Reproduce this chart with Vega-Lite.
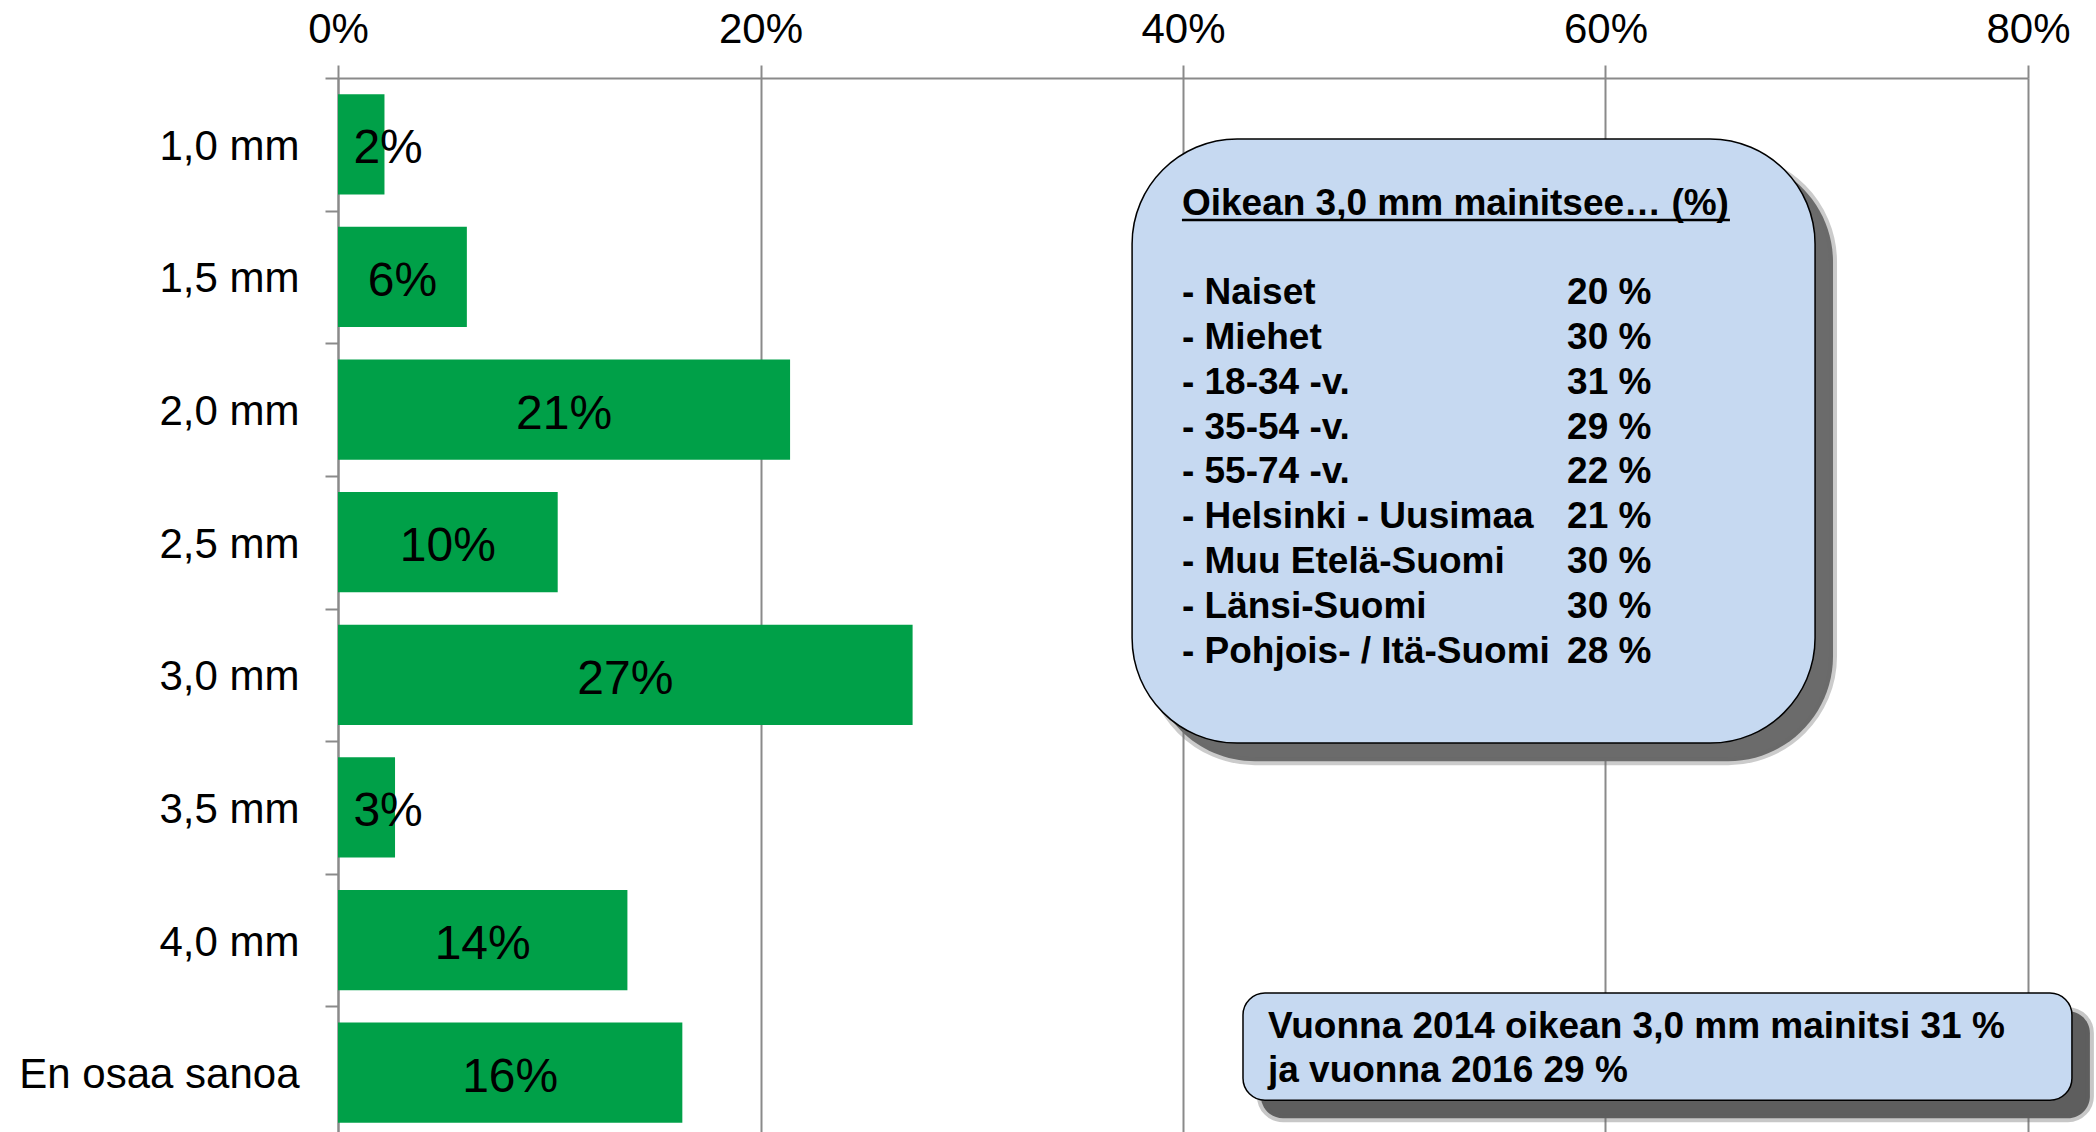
{
  "$schema": "https://vega.github.io/schema/vega-lite/v6.json",
  "width": 1690,
  "height": 1061,
  "autosize": "none",
  "padding": {"left": 338, "top": 78, "right": 68, "bottom": 0},
  "background": "white",
  "config": {"view": {"stroke": null}, "font": "Liberation Sans", "text": {"font": "Liberation Sans"}},
  "datasets": {
    "jakauma": [
      {"koko": "1,0 mm", "osuus": 0.022},
      {"koko": "1,5 mm", "osuus": 0.061},
      {"koko": "2,0 mm", "osuus": 0.214},
      {"koko": "2,5 mm", "osuus": 0.104},
      {"koko": "3,0 mm", "osuus": 0.272},
      {"koko": "3,5 mm", "osuus": 0.027},
      {"koko": "4,0 mm", "osuus": 0.137},
      {"koko": "En osaa sanoa", "osuus": 0.163}
    ],
    "ryhmat": [
      {"ryhma": "Naiset", "osuus": 20},
      {"ryhma": "Miehet", "osuus": 30},
      {"ryhma": "18-34 -v.", "osuus": 31},
      {"ryhma": "35-54 -v.", "osuus": 29},
      {"ryhma": "55-74 -v.", "osuus": 22},
      {"ryhma": "Helsinki - Uusimaa", "osuus": 21},
      {"ryhma": "Muu Etelä-Suomi", "osuus": 30},
      {"ryhma": "Länsi-Suomi", "osuus": 30},
      {"ryhma": "Pohjois- / Itä-Suomi", "osuus": 28}
    ]
  },
  "layer": [
    {
      "data": {"name": "jakauma"},
      "transform": [{"calculate": "max(datum.osuus / 2, 0.0237)", "as": "labelX"}],
      "encoding": {
        "y": {
          "field": "koko", "type": "nominal", "sort": null,
          "scale": {"paddingInner": 0, "paddingOuter": 0},
          "axis": {
            "title": null, "domainColor": "#8a8a8a", "domainWidth": 2,
            "tickColor": "#8a8a8a", "tickWidth": 2, "tickSize": 13, "tickBand": "extent",
            "labelFontSize": 42, "labelColor": "black", "labelPadding": 26,
            "labelFont": "Liberation Sans", "labelLimit": 500, "labelOffset": 2
          }
        }
      },
      "layer": [
        {
          "mark": {"type": "bar", "color": "#00a048", "height": {"band": 0.755}},
          "encoding": {
            "x": {
              "field": "osuus", "type": "quantitative", "title": null,
              "scale": {"domain": [0, 0.8], "nice": false},
              "axis": {
                "orient": "top", "values": [0, 0.2, 0.4, 0.6, 0.8], "format": ".0%",
                "grid": true, "gridColor": "#8a8a8a", "gridWidth": 2,
                "domainColor": "#8a8a8a", "domainWidth": 2,
                "tickColor": "#8a8a8a", "tickWidth": 2, "tickSize": 13,
                "labelFontSize": 42, "labelColor": "black", "labelPadding": 14,
                "labelFlush": false, "labelFont": "Liberation Sans", "title": null
              }
            }
          }
        },
        {
          "mark": {"type": "text", "fontSize": 48, "dy": 5, "color": "black", "align": "center", "baseline": "middle"},
          "encoding": {
            "x": {"field": "labelX", "type": "quantitative", "title": null, "scale": {"domain": [0, 0.8], "nice": false}},
            "text": {"field": "osuus", "type": "quantitative", "format": ".0%"}
          }
        }
      ]
    },
    {
      "data": {"values": [{}]},
      "layer": [
        {
          "mark": {"type": "rect", "color": "#6b6b6b", "stroke": "#6b6b6b", "strokeOpacity": 0.35, "strokeWidth": 8, "cornerRadius": 105},
          "encoding": {
            "x": {"datum": 0.3844, "type": "quantitative", "title": null, "scale": {"domain": [0, 0.8], "nice": false}},
            "x2": {"datum": 0.7077},
            "y": {"datum": 0.596, "type": "quantitative", "scale": {"domain": [0, 8], "reverse": true, "nice": false, "zero": false}, "axis": null},
            "y2": {"datum": 5.151}
          }
        },
        {
          "mark": {"type": "rect", "color": "#c6d9f1", "stroke": "black", "strokeWidth": 1.5, "cornerRadius": 105},
          "encoding": {
            "x": {"datum": 0.3759, "type": "quantitative", "title": null, "scale": {"domain": [0, 0.8], "nice": false}},
            "x2": {"datum": 0.6992},
            "y": {"datum": 0.460, "type": "quantitative", "scale": {"domain": [0, 8], "reverse": true, "nice": false, "zero": false}, "axis": null},
            "y2": {"datum": 5.015}
          }
        },
        {
          "mark": {"type": "text", "align": "left", "baseline": "alphabetic", "fontSize": 37, "fontWeight": "bold", "color": "black", "text": "Oikean 3,0 mm mainitsee… (%)"},
          "encoding": {
            "x": {"datum": 0.3995, "type": "quantitative", "title": null, "scale": {"domain": [0, 0.8], "nice": false}},
            "y": {"datum": 1.033, "type": "quantitative", "scale": {"domain": [0, 8], "reverse": true, "nice": false, "zero": false}, "axis": null}
          }
        },
        {
          "mark": {"type": "rule", "color": "black", "strokeWidth": 2.5},
          "encoding": {
            "x": {"datum": 0.3995, "type": "quantitative", "title": null, "scale": {"domain": [0, 0.8], "nice": false}},
            "x2": {"datum": 0.6589},
            "y": {"datum": 1.071, "type": "quantitative", "scale": {"domain": [0, 8], "reverse": true, "nice": false, "zero": false}, "axis": null}
          }
        },
        {
          "mark": {"type": "rect", "color": "#5e5e5e", "stroke": "#5e5e5e", "strokeOpacity": 0.35, "strokeWidth": 8, "cornerRadius": 22},
          "encoding": {
            "x": {"datum": 0.4369, "type": "quantitative", "title": null, "scale": {"domain": [0, 0.8], "nice": false}},
            "x2": {"datum": 0.8293},
            "y": {"datum": 7.036, "type": "quantitative", "scale": {"domain": [0, 8], "reverse": true, "nice": false, "zero": false}, "axis": null},
            "y2": {"datum": 7.843}
          }
        },
        {
          "mark": {"type": "rect", "color": "#c6d9f1", "stroke": "black", "strokeWidth": 1.5, "cornerRadius": 22},
          "encoding": {
            "x": {"datum": 0.4284, "type": "quantitative", "title": null, "scale": {"domain": [0, 0.8], "nice": false}},
            "x2": {"datum": 0.8208},
            "y": {"datum": 6.900, "type": "quantitative", "scale": {"domain": [0, 8], "reverse": true, "nice": false, "zero": false}, "axis": null},
            "y2": {"datum": 7.707}
          }
        },
        {
          "mark": {"type": "text", "align": "left", "baseline": "alphabetic", "fontSize": 37, "fontWeight": "bold", "color": "black", "lineHeight": 44,
                   "text": ["Vuonna 2014 oikean 3,0 mm mainitsi 31 %", "ja vuonna 2016 29 %"]},
          "encoding": {
            "x": {"datum": 0.4402, "type": "quantitative", "title": null, "scale": {"domain": [0, 0.8], "nice": false}},
            "y": {"datum": 7.240, "type": "quantitative", "scale": {"domain": [0, 8], "reverse": true, "nice": false, "zero": false}, "axis": null}
          }
        }
      ]
    },
    {
      "data": {"name": "ryhmat"},
      "transform": [
        {"window": [{"op": "row_number", "as": "rivi"}]},
        {"calculate": "'- ' + datum.ryhma", "as": "nimi"},
        {"calculate": "datum.osuus + ' %'", "as": "teksti"}
      ],
      "encoding": {
        "y": {"field": "rivi", "type": "quantitative", "scale": {"domain": [-4.036, 19.607], "reverse": true, "nice": false, "zero": false}, "axis": null}
      },
      "layer": [
        {
          "mark": {"type": "text", "align": "left", "baseline": "alphabetic", "fontSize": 37, "fontWeight": "bold", "color": "black"},
          "encoding": {
            "x": {"datum": 0.3995, "type": "quantitative", "title": null, "scale": {"domain": [0, 0.8], "nice": false}},
            "text": {"field": "nimi"}
          }
        },
        {
          "mark": {"type": "text", "align": "left", "baseline": "alphabetic", "fontSize": 37, "fontWeight": "bold", "color": "black"},
          "encoding": {
            "x": {"datum": 0.5818, "type": "quantitative", "title": null, "scale": {"domain": [0, 0.8], "nice": false}},
            "text": {"field": "teksti"}
          }
        }
      ]
    }
  ],
  "resolve": {"scale": {"y": "independent"}}
}
